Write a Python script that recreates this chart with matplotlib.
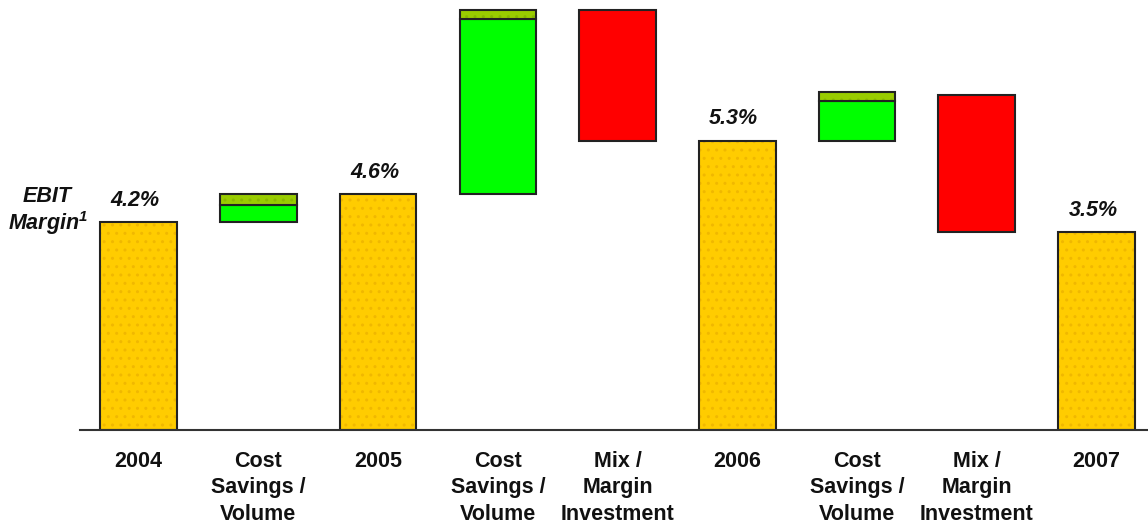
import matplotlib.pyplot as plt

plt.rcParams['font.family'] = ['Liberation Sans', 'DejaVu Sans']

# chart levels (picture units, the source chart is not drawn to scale)
categories = ["2004", "Cost\nSavings /\nVolume", "2005", "Cost\nSavings /\nVolume",
              "Mix /\nMargin\nInvestment", "2006", "Cost\nSavings /\nVolume",
              "Mix /\nMargin\nInvestment", "2007"]
totals = {0: 4.16, 2: 4.72, 5: 5.78, 8: 3.96}
total_labels = {0: "4.2%", 2: "4.6%", 5: "5.3%", 8: "3.5%"}
# cost savings steps: (bottom, green top, olive top)
savings = {1: (4.16, 4.50, 4.72), 3: (4.72, 8.22, 8.40), 6: (5.78, 6.58, 6.76)}
# mix / margin steps: (top, bottom)
mix = {4: (8.40, 5.78), 7: (6.70, 3.96)}

YELLOW = "#FFCC00"
GREEN = "#00FF00"
OLIVE = "#99CC00"
RED = "#FF0000"
w = 0.64

fig = plt.figure(figsize=(11.48, 5.28), dpi=100)
ax = fig.add_axes([80 / 1148, 98 / 528, 1 - 80 / 1148, 430 / 528])

for i, v in totals.items():
    ax.bar(i, v, width=w, color=YELLOW, hatch="..", edgecolor="#F0B800", linewidth=0)
    ax.bar(i, v, width=w, fill=False, edgecolor="#222222", linewidth=1.5)
    ax.text(i - 0.03, v + 0.44, total_labels[i], ha="center", va="center",
            fontsize=15.5, fontweight="bold", style="italic", color="#111111")

for i, (b, g, o) in savings.items():
    ax.bar(i, g - b, bottom=b, width=w, color=GREEN, edgecolor="#222222", linewidth=1.5)
    ax.bar(i, o - g, bottom=g, width=w, color=OLIVE, hatch="..", edgecolor="#88B800", linewidth=0)
    ax.bar(i, o - g, bottom=g, width=w, fill=False, edgecolor="#222222", linewidth=1.5)

for i, (t, b) in mix.items():
    ax.bar(i, t - b, bottom=b, width=w, color=RED, edgecolor="#222222", linewidth=1.5)

ax.set_xlim(-0.49, 8.43)
ax.set_ylim(0, 8.6)
for s in ["top", "right", "left"]:
    ax.spines[s].set_visible(False)
ax.spines["bottom"].set_color("#333333")
ax.spines["bottom"].set_linewidth(1.5)
ax.set_yticks([])
ax.set_xticks(range(len(categories)))
ax.set_xticklabels(categories, fontsize=15.5, fontweight="bold", va="top",
                   linespacing=1.35, color="#111111")
ax.tick_params(axis="x", length=0, pad=15)

fig.text(47 / 1148, 1 - 197 / 528, "EBIT", ha="center", va="center",
         fontsize=15.5, fontweight="bold", style="italic", color="#111111")
fig.text(48 / 1148, 1 - 223 / 528, r"Margin$^{\mathregular{1}}$", ha="center", va="center",
         fontsize=15.5, fontweight="bold", style="italic", color="#111111")

fig.savefig("out.png", dpi=100)
